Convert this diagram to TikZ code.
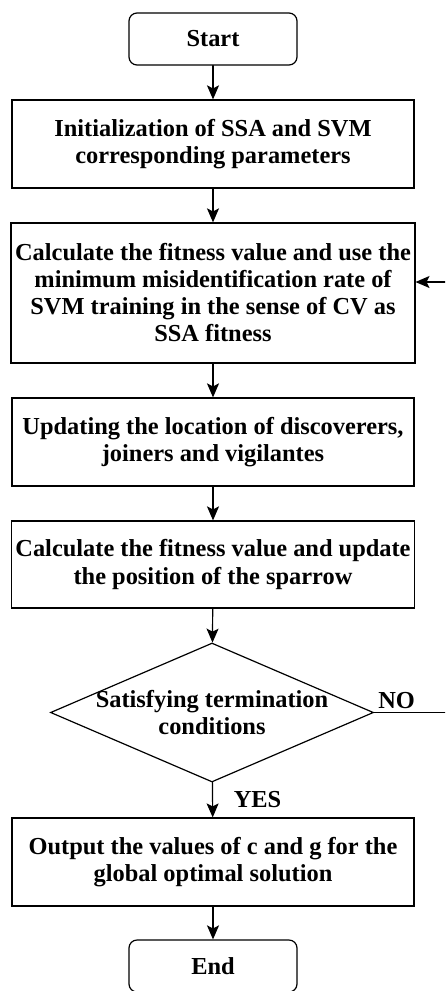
\documentclass[tikz,border=0pt]{standalone}
\usepackage{fontspec}
\setmainfont{Liberation Serif}
\usetikzlibrary{arrows.meta, calc, shapes.geometric}

\tikzset{
  box/.style={draw, line width=0.6pt, minimum width=201pt, align=center, inner sep=2pt},
  terminal/.style={box, rounded corners=4pt, minimum width=84pt, minimum height=26pt},
  decision/.style={draw, line width=0.6pt, diamond, inner sep=0pt, minimum width=161.5pt, minimum height=69.5pt}
}

\begin{document}
\begin{tikzpicture}[line cap=round,>={Stealth[length=7pt,width=6pt,inset=1.5pt]},x=1pt,y=1pt,
  font=\fontsize{12.2pt}{13.5pt}\selectfont\bfseries]
\clip (0,0) rectangle (222.5,-495.5);

\node[terminal] (start) at (106.5,-19.5) {Start};
\node[box, minimum height=44pt] (init) at (106.5,-72) {Initialization of SSA and SVM\\corresponding parameters};
\node[box, minimum height=70pt] (fit) at (106.5,-146.5) {Calculate the fitness value and use the\\minimum misidentification rate of\\SVM training in the sense of CV as\\SSA fitness};
\node[box, minimum height=44pt] (upd) at (106.5,-221) {Updating the location of discoverers,\\joiners and vigilantes};
\node[box, minimum height=43.5pt] (pos) at (106.5,-282.25) {Calculate the fitness value and update\\the position of the sparrow};
\node[decision, label={[align=center]center:Satisfying termination\\conditions}] (cond) at (106,-356.25) {};
\node[box, minimum height=44pt] (out) at (106.5,-431) {Output the values of c and g for the\\global optimal solution};
\node[terminal] (end) at (106.5,-483) {End};

\draw[->, line width=0.6pt] (start) -- (init);
\draw[->, line width=0.6pt] (init) -- (fit);
\draw[->, line width=0.6pt] (fit) -- (upd);
\draw[->, line width=0.6pt] (upd) -- (pos);
\draw[->, line width=0.6pt] (pos) -- (cond);
\draw[->, line width=0.6pt] (cond) -- node[right=7pt] {YES} (out);
\draw[->, line width=0.6pt] (out) -- (end);

\draw[->, line width=0.6pt] (cond.east) -- node[pos=0.25, above, inner sep=1.5pt] {NO} ++(45,0)
  |- ($(fit.east)+(0,5.5)$);
\end{tikzpicture}
\end{document}
